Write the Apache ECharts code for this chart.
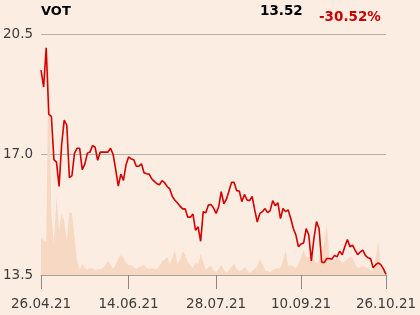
<!DOCTYPE html>
<html>
<head>
<meta charset="utf-8">
<script src="https://cdn.jsdelivr.net/npm/echarts@6/dist/echarts.min.js"></script>
<style>
html,body{margin:0;padding:0;background:#fcede2;}
#c{width:420px;height:315px;}
</style>
</head>
<body>
<div id="c"></div>
<script>
var symbol = 'VOT';
var lastPrice = '13.52';
var changePct = '-30.52%';
var tickIndex = [0, 34, 68, 101, 134];
var tickLabels = ['26.04.21', '14.06.21', '28.07.21', '10.09.21', '26.10.21'];
var yTicks = [13.5, 17.0, 20.5];
var prices = [
19.45,18.96,20.10,18.17,18.11,16.85,16.78,16.07,17.29,18.00,
17.85,16.33,16.39,17.04,17.18,17.18,16.56,16.72,17.04,17.07,
17.26,17.21,16.83,17.07,17.07,17.07,17.07,17.18,17.00,16.56,
16.08,16.43,16.25,16.70,16.93,16.87,16.85,16.66,16.66,16.73,
16.47,16.44,16.43,16.29,16.22,16.15,16.12,16.24,16.18,16.07,
16.00,15.78,15.67,15.59,15.50,15.42,15.42,15.18,15.18,15.27,
14.80,14.90,14.48,15.34,15.31,15.53,15.55,15.45,15.29,15.48,
15.92,15.57,15.70,15.94,16.19,16.19,15.95,15.94,15.63,15.84,
15.68,15.66,15.78,15.39,15.04,15.29,15.34,15.43,15.31,15.37,
15.66,15.51,15.60,15.14,15.43,15.34,15.39,15.14,14.85,14.66,
14.32,14.40,14.43,14.85,14.66,13.91,14.56,15.05,14.85,13.88,
13.86,13.98,13.98,13.96,14.07,14.03,14.19,14.09,14.32,14.53,
14.32,14.37,14.22,14.09,14.17,14.22,14.07,14.00,13.98,13.71,
13.80,13.85,13.80,13.68,13.52
];
var volumes = [
37,34,33,225,60,30,78,45,61,53,
33,62,62,38,14,5,11,7,5,7,
7,5,6,6,7,10,14,10,6,11,
16,20,17,12,10,10,8,6,8,9,
10,7,6,7,6,6,9,14,15,18,
11,17,25,11,15,24,20,13,9,7,
12,11,21,13,5,8,9,5,3,6,
10,5,2,5,8,11,6,4,5,8,
5,2,4,6,9,16,11,5,4,3,
5,6,7,7,15,24,9,10,9,7,
11,18,25,18,18,20,15,12,15,21,
33,51,18,13,15,17,15,12,14,16,
18,17,11,7,8,9,8,7,5,4,
16,33,11,5,3
];

var priceData = prices.map(function (v, i) { return [i, v]; });
var volData = volumes.map(function (v, i) { return [i, v]; });

var chart = echarts.init(document.getElementById('c'), null, {renderer: 'canvas'});
var FONT = 'DejaVu Sans';
chart.setOption({
  backgroundColor: '#fcede2',
  animation: false,
  grid: {left: 41, right: 34, top: 34, bottom: 40, containLabel: false},
  graphic: [
    {type: 'text', left: 41, top: 5, style: {text: symbol, font: 'bold 13px "DejaVu Sans"', fill: '#000'}},
    {type: 'text', left: 260, top: 4, style: {text: lastPrice, font: 'bold 13.5px "DejaVu Sans"', fill: '#000'}},
    {type: 'text', left: 319, top: 10, style: {text: changePct, font: 'bold 13.5px "DejaVu Sans"', fill: '#cc0000'}}
  ],
  xAxis: {
    type: 'value', min: 0, max: prices.length - 1,
    axisLine: {show: true, lineStyle: {color: '#a8a29c', width: 1}},
    axisTick: {show: true, customValues: tickIndex, length: 14, lineStyle: {color: '#8c8884'}},
    axisLabel: {customValues: tickIndex, margin: 22, color: '#3c3c3c', fontSize: 13.5, fontFamily: FONT,
      formatter: function (v) { var k = tickIndex.indexOf(Math.round(v)); return k >= 0 ? tickLabels[k] : ''; }},
    splitLine: {show: false}
  },
  yAxis: [{
    type: 'value', min: yTicks[0], max: yTicks[2], interval: yTicks[1] - yTicks[0],
    axisLine: {show: false}, axisTick: {show: false},
    axisLabel: {margin: 8, color: '#3c3c3c', fontSize: 13.5, fontFamily: FONT,
      formatter: function (v) { return v.toFixed(1); }},
    splitLine: {show: true, lineStyle: {color: '#b4aea8', width: 1}}
  }, {
    type: 'value', min: 0, max: 240, show: false,
    axisLine: {show: false}, axisTick: {show: false}, axisLabel: {show: false}, splitLine: {show: false}
  }],
  series: [{
    type: 'line', yAxisIndex: 1, data: volData, symbol: 'none', silent: true,
    lineStyle: {width: 0}, areaStyle: {color: '#f7d8c2', opacity: 1}, z: 1
  }, {
    type: 'line', yAxisIndex: 0, data: priceData, symbol: 'none',
    lineStyle: {color: '#d40000', width: 1.6}, z: 3
  }]
});
</script>
</body>
</html>
